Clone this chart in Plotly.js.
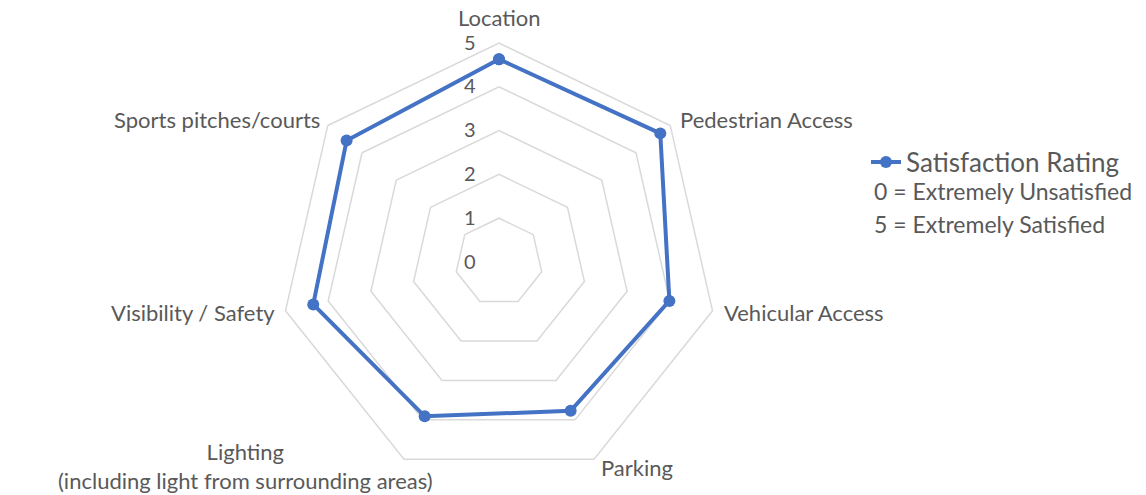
<!DOCTYPE html>
<html>
<head>
<meta charset="utf-8">
<script src="https://cdn.plot.ly/plotly-3.0.1.min.js"></script>
<style>html,body{margin:0;padding:0;background:#fff;}#chart{width:1146px;height:495px;}</style>
</head>
<body>
<div id="chart"></div>
<script>
var categories = ["Location", "Pedestrian Access", "Vehicular Access", "Parking",
  "Lighting<br>(including light from surrounding areas)", "Visibility / Safety", "Sports pitches/courts"];
var ratings = [4.63, 4.71, 3.99, 3.77, 3.91, 4.35, 4.45];
var seriesName = "Satisfaction Rating";
var radialTicks = [0, 1, 2, 3, 4, 5];
var noteLines = ["0 = Extremely Unsatisfied", "5 = Extremely Satisfied"];

var FONT = "Lato, 'Open Sans', sans-serif";
var TXT = "#595959";
var GRID = "#d9d9d9";
var BLUE = "#4472C4";
var W = 1146, H = 495, cx = 499, cy = 262, R = 219;

// label placement (pixels): [x, y, xanchor]
var labelPlacement = [
  [499, 17, "center"], [678, 119, "left"], [722, 312, "left"], [599, 467, "left"],
  [245, 466, "center"], [277, 312, "right"], [322, 119, "right"]
];

var trace = {
  type: "scatterpolar",
  mode: "lines+markers",
  r: ratings.concat([ratings[0]]),
  theta: categories.concat([categories[0]]),
  name: seriesName,
  line: {color: BLUE, width: 4},
  marker: {color: BLUE, size: 12},
  cliponaxis: false
};

var annotations = categories.map(function (c, i) {
  var p = labelPlacement[i];
  return {
    text: c, showarrow: false, xref: "paper", yref: "paper",
    x: p[0] / W, y: 1 - p[1] / H, xanchor: p[2], yanchor: "middle", align: "center",
    font: {size: 22, color: TXT, family: FONT}
  };
}).concat(noteLines.map(function (t, i) {
  return {
    text: t, showarrow: false, xref: "paper", yref: "paper",
    x: 872 / W, y: 1 - (191 + i * 33) / H, xanchor: "left", yanchor: "middle",
    font: {size: 23, color: TXT, family: FONT}
  };
}));

var layout = {
  width: W, height: H,
  margin: {l: 0, r: 0, t: 0, b: 0},
  paper_bgcolor: "#fff",
  font: {family: FONT, color: TXT, size: 20},
  showlegend: true,
  legend: {
    x: 866 / W, y: 1 - 162 / H, xanchor: "left", yanchor: "middle",
    font: {size: 26, color: TXT, family: FONT},
    bgcolor: "rgba(0,0,0,0)", itemwidth: 30
  },
  polar: {
    domain: {x: [(cx - R) / W, (cx + R) / W], y: [(H - cy - R) / H, (H - cy + R) / H]},
    gridshape: "linear",
    bgcolor: "#fff",
    radialaxis: {
      range: [0, 5], tickvals: radialTicks, ticktext: radialTicks.map(String),
      angle: 90, side: "counterclockwise", tickangle: 90,
      showline: false, ticks: "outside", ticklen: 16, tickcolor: "rgba(0,0,0,0)",
      showgrid: true, gridcolor: GRID, gridwidth: 1.5,
      tickfont: {size: 20, color: TXT, family: FONT}
    },
    angularaxis: {
      type: "category", categoryarray: categories, categoryorder: "array",
      rotation: 90, direction: "clockwise",
      showgrid: false, showline: true, linecolor: GRID, linewidth: 1.5, ticks: "",
      showticklabels: false
    }
  },
  annotations: annotations
};

Plotly.newPlot("chart", [trace], layout, {displayModeBar: false, staticPlot: true});
</script>
</body>
</html>
